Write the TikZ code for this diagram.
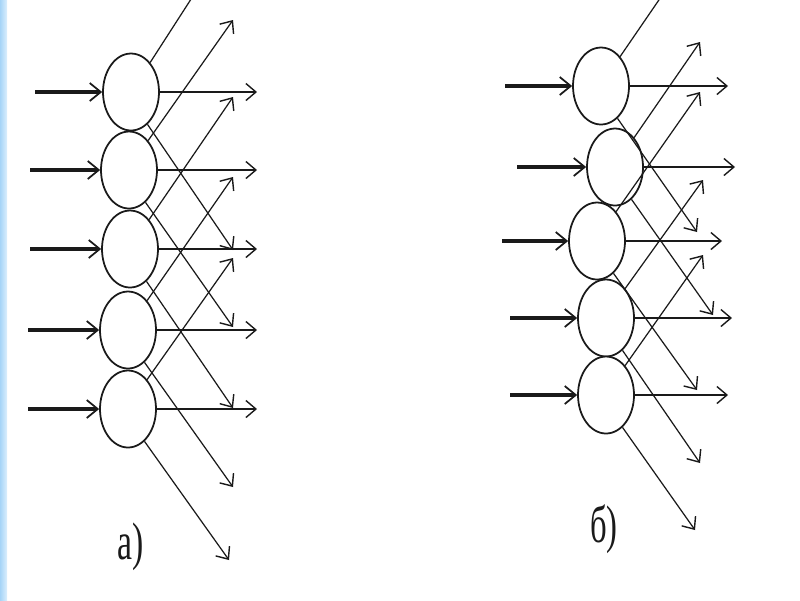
\documentclass[tikz,border=0pt]{standalone}
\usepackage{fontspec}
\setmainfont{Liberation Serif}
\usetikzlibrary{arrows.meta,shapes.geometric}
\definecolor{paper}{HTML}{FFFFFF}
\definecolor{ink}{HTML}{1A1A1A}
\definecolor{strip}{HTML}{A6D4F7}
\definecolor{stripfade}{HTML}{DCEFFD}
\newcommand{\TipA}{233}
\newcommand{\OutA}{257}

\begin{document}
\begin{tikzpicture}[
    x=0.02cm, y=-0.02cm, ink,
    neuron/.style={ellipse, draw=ink, line width=1pt, fill=paper, minimum width=1.12cm, minimum height=1.54cm, inner sep=0pt},
    feed/.style={line width=2pt, -{Straight Barb[length=2.2mm, width=3.6mm, line width=1pt]}},
    outarrow/.style={line width=1pt, -{Straight Barb[length=2mm, width=3.4mm, line width=0.8pt]}},
    wire/.style={line width=0.7pt, -{Straight Barb[length=2mm, width=3.4mm, line width=0.8pt]}},
    tag/.style={font=\fontsize{30}{32}\selectfont, inner sep=0pt},
  ]

\useasboundingbox (0,0) rectangle (800,600);
\clip (0,0) rectangle (800,600);
\shade[left color=strip, right color=stripfade] (0,0) rectangle (7,600);

% --- а): every neuron sends to the rows two above and two below ---------------
\foreach \i/\cx/\cy/\sx in {1/131/92/35, 2/129/170/30, 3/130/249/30, 4/128/330/28, 5/128/409/28} {
  \node[neuron] (a\i) at (\cx,\cy) {};
  \coordinate (ai\i) at (\sx,\cy);
  \coordinate (ao\i) at (\OutA,\cy);
  \draw[feed] (ai\i) -- (a\i);
  \draw[outarrow] (a\i) -- (ao\i);
}
\foreach \i/\uy/\dx/\dy in {1/-66/233/250, 2/20/233/327, 3/97/233/408, 4/177/233/487, 5/258/229/560} {
  \coordinate (au\i) at (\TipA,\uy);
  \coordinate (ad\i) at (\dx,\dy);
  \draw[wire] (a\i.57) -- (au\i);
  \draw[wire] (a\i.-63) -- (ad\i);
}
\node[tag] (taga) at (131,547) {\scalebox{0.64}[1]{а)}};

% --- б): the same links, the rows set a little askew ---------------------------
\foreach \i/\cx/\cy/\sx/\ox in {1/601/86/505/728, 2/615/167/517/735, 3/597/241/502/722, 4/606/318/510/732, 5/606/395/510/728} {
  \node[neuron] (b\i) at (\cx,\cy) {};
  \coordinate (bi\i) at (\sx,\cy);
  \coordinate (bo\i) at (\ox,\cy);
  \draw[feed] (bi\i) -- (b\i);
  \draw[outarrow] (b\i) -- (bo\i);
}
\foreach \i/\ux/\uy/\dx/\dy in {1/700/-60/697/232, 2/700/42/713/315, 3/700/92/697/390, 4/703/180/700/463, 5/703/255/695/530} {
  \coordinate (bu\i) at (\ux,\uy);
  \coordinate (bd\i) at (\dx,\dy);
  \draw[wire] (b\i.57) -- (bu\i);
  \draw[wire] (b\i.-63) -- (bd\i);
}
\node[tag] (tagb) at (604,529) {\scalebox{0.62}[1]{б)}};

\end{tikzpicture}
\end{document}
